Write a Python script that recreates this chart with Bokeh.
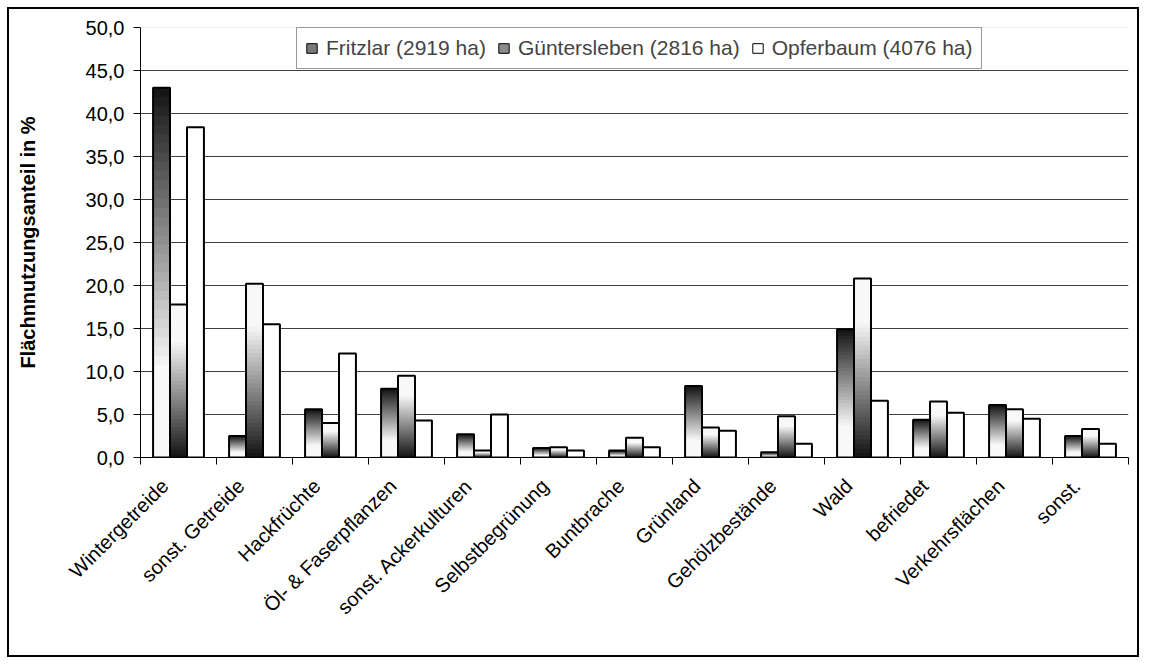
import math
from bokeh.plotting import figure
from bokeh.models import (Range1d, FixedTicker, CustomJSTickFormatter, ColumnDataSource,
                          Legend, LegendItem, Span)
from bokeh.embed import file_html
from bokeh.resources import INLINE

categories = ["Wintergetreide", "sonst. Getreide", "Hackfrüchte", "Öl- & Faserpflanzen",
              "sonst. Ackerkulturen", "Selbstbegrünung", "Buntbrache", "Grünland",
              "Gehölzbestände", "Wald", "befriedet", "Verkehrsflächen", "sonst."]
series_names = ["Fritzlar (2919 ha)", "Güntersleben (2816 ha)", "Opferbaum (4076 ha)"]
fritzlar = [43.0, 2.5, 5.6, 8.0, 2.7, 1.1, 0.8, 8.3, 0.6, 14.9, 4.4, 6.1, 2.5]
guentersleben = [17.8, 20.2, 4.0, 9.5, 0.8, 1.2, 2.3, 3.5, 4.8, 20.8, 6.5, 5.6, 3.3]
opferbaum = [38.4, 15.5, 12.1, 4.3, 5.0, 0.8, 1.2, 3.1, 1.6, 6.6, 5.2, 4.5, 1.6]
y_ticks = [0, 5, 10, 15, 20, 25, 30, 35, 40, 45, 50]
y_label = "Flächnnutzungsanteil in %"

FONT = "Liberation Sans"
BAR_W = 0.223
OFFSETS = [-BAR_W, 0.0, BAR_W]
N_SEG = 40
LABEL_SHIFT = -0.18

p = figure(width=1132, height=650, output_backend="svg", toolbar_location=None,
           x_range=Range1d(0, len(categories)), y_range=Range1d(0, 50),
           min_border_left=131, min_border_right=13, min_border_top=18,
           min_border_bottom=202)
p.styles = {"margin-left": "7px", "margin-top": "7px",
            "border": "2px solid black"}
p.outline_line_color = None
p.background_fill_color = "white"
p.border_fill_color = "white"


def shade(t):
    g = int(round(18 + 237 * min(1.0, max(0.0, t) / 0.78)))
    g = min(g, 248)
    return "#%02x%02x%02x" % (g, g, g)


def gradient_source(values, offset, dark_top):
    xs, bots, tops, cols = [], [], [], []
    for i, v in enumerate(values):
        for k in range(N_SEG):
            f = (k + 0.5) / N_SEG
            t = (1 - f) if dark_top else f
            xs.append(i + 0.5 + offset)
            bots.append(v * k / N_SEG)
            tops.append(v)
            cols.append(shade(t))
    return ColumnDataSource(dict(x=xs, bottom=bots, top=tops, color=cols))


# gradient fills
for vals, off, dark_top in [(fritzlar, OFFSETS[0], True), (guentersleben, OFFSETS[1], False)]:
    p.vbar(x="x", bottom="bottom", top="top", width=BAR_W, fill_color="color",
           line_color=None, source=gradient_source(vals, off, dark_top))

# outlines / white bars
for vals, off, fill in [(fritzlar, OFFSETS[0], None), (guentersleben, OFFSETS[1], None),
                        (opferbaum, OFFSETS[2], "white")]:
    src = ColumnDataSource(dict(x=[i + 0.5 + off for i in range(len(vals))], top=vals))
    p.vbar(x="x", top="top", bottom=0, width=BAR_W, fill_color=fill,
           fill_alpha=1.0 if fill else 0.0, line_color="black", line_width=2, source=src)

# legend dummies (placed outside the visible range)
leg_fills = ["#7a7a7a", "#8a8a8a", "white"]
items = []
for name, c in zip(series_names, leg_fills):
    r = p.vbar(x=[-5], top=[1], width=BAR_W, fill_color=c, line_color="black", line_width=1)
    items.append(LegendItem(label=name, renderers=[r]))
legend = Legend(items=items, orientation="horizontal", location=(156, 388),
                border_line_color="#333333", border_line_width=1,
                background_fill_color="white", background_fill_alpha=1.0,
                padding=8, spacing=11, label_standoff=8, glyph_width=13, glyph_height=12,
                label_text_font=FONT, label_text_font_size="21px", margin=0)
p.add_layout(legend)

# light top line at 50
p.add_layout(Span(location=50, dimension="width", line_color="#d8d8d8", line_width=1))

# grid
p.xgrid.visible = False
p.ygrid.ticker = FixedTicker(ticks=y_ticks[1:-1])
p.ygrid.grid_line_color = "#404040"
p.ygrid.grid_line_width = 1

# x axis: ticks between categories, rotated labels
xa = p.xaxis[0]
xa.ticker = FixedTicker(ticks=[i + 0.5 + LABEL_SHIFT for i in range(len(categories))],
                        minor_ticks=list(range(len(categories) + 1)))
xa.formatter = CustomJSTickFormatter(args=dict(names=categories, shift=LABEL_SHIFT),
                                     code="return names[Math.round(tick - 0.5 - shift)];")
xa.major_tick_line_color = None
xa.major_tick_out = 7
xa.major_tick_in = 0
xa.minor_tick_line_color = "black"
xa.minor_tick_out = 7
xa.minor_tick_in = 0
xa.major_label_orientation = math.pi / 4
xa.major_label_standoff = 18
xa.major_label_text_font = FONT
xa.major_label_text_font_size = "20px"
xa.major_label_text_color = "black"
xa.axis_line_color = "black"

ya = p.yaxis[0]
ya.ticker = FixedTicker(ticks=y_ticks)
ya.formatter = CustomJSTickFormatter(code="return tick.toFixed(1).replace('.', ',');")
ya.minor_tick_line_color = None
ya.major_tick_out = 7
ya.major_tick_in = 0
ya.major_tick_line_color = "black"
ya.major_label_standoff = 9
ya.major_label_text_font = FONT
ya.major_label_text_font_size = "20px"
ya.major_label_text_color = "black"
ya.axis_line_color = "black"
ya.axis_label = y_label
ya.axis_label_standoff = 44
ya.axis_label_text_font = FONT
ya.axis_label_text_font_size = "20px"
ya.axis_label_text_font_style = "bold"
ya.axis_label_text_color = "black"

open("out.html", "w").write(file_html(p, INLINE))
